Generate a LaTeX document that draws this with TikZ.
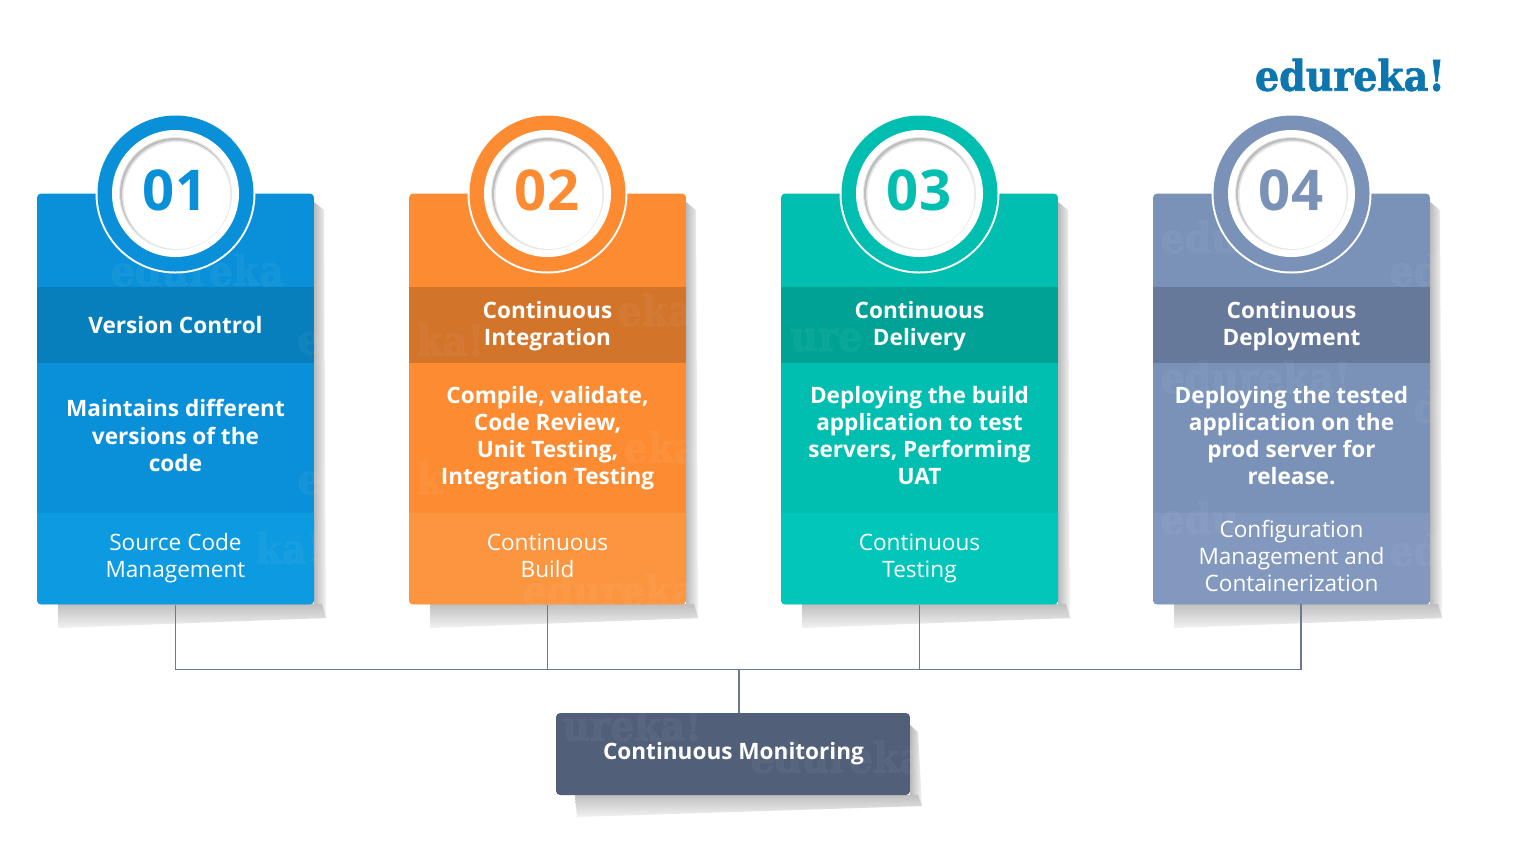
\documentclass[tikz,border=0pt]{standalone}
\usepackage{fontspec}
\setmainfont{Open Sans}
\newfontfamily\logofont[FakeBold=1.6]{DejaVu Serif Bold}
\definecolor{blueA}{HTML}{0A90D8}
\definecolor{blueB}{HTML}{067FBC}
\definecolor{blueC}{HTML}{0C9AE0}
\definecolor{orangeA}{HTML}{FD8B32}
\definecolor{orangeB}{HTML}{D2742A}
\definecolor{orangeC}{HTML}{FC953F}
\definecolor{tealA}{HTML}{00BFB0}
\definecolor{tealB}{HTML}{00A296}
\definecolor{tealC}{HTML}{02C6B9}
\definecolor{slateA}{HTML}{7A92B8}
\definecolor{slateB}{HTML}{66799A}
\definecolor{slateC}{HTML}{8298BE}
\definecolor{monitorA}{HTML}{515F79}
\definecolor{linkA}{HTML}{6A7A94}
\definecolor{logoA}{HTML}{0E76AE}
\tikzset{
  cardbox/.style={minimum width=5.54cm,minimum height=8.22cm,rounded corners=2.3pt,inner sep=0pt},
  bandtext/.style={text=white,align=center,font=\fontsize{12.85}{15.4}\selectfont\bfseries},
  lowtext/.style={text=white!93,align=center,font=\fontsize{12.85}{15.4}\selectfont},
  numtext/.style={font=\fontsize{32}{32}\selectfont\bfseries},
  logotext/.style={xscale=.9,font=\fontsize{24}{24}\selectfont\logofont},
  mark text/.style={logotext,anchor=west,text=white,text opacity=.045},
  haloB/.style={top color=gray!50,bottom color=gray!10},
  haloR/.style={left color=gray!55,right color=gray!8},
  link/.style={draw=linkA,line width=1.1pt},
}
\begin{document}
\begin{tikzpicture}[x=0.02cm,y=-0.02cm]
  \useasboundingbox (0,0) rectangle (1524,846);
  \fill[white] (0,0) rectangle (1524,846);
  % sombras
  \shade[haloR] (314,202)--(324,210)--(326,618)--(314,618)--cycle;
  \shade[haloB] (58,604)--(58,628)--(326,618)--(322,604)--cycle;
  \shade[haloR] (686,202)--(696,210)--(698,618)--(686,618)--cycle;
  \shade[haloB] (430,604)--(430,628)--(698,618)--(694,604)--cycle;
  \shade[haloR] (1058,202)--(1068,210)--(1070,618)--(1058,618)--cycle;
  \shade[haloB] (802,604)--(802,628)--(1070,618)--(1066,604)--cycle;
  \shade[haloR] (1430,202)--(1440,210)--(1442,618)--(1430,618)--cycle;
  \shade[haloB] (1174,604)--(1174,628)--(1442,618)--(1438,604)--cycle;
  \shade[haloR] (910,725)--(918,732)--(922,806)--(910,806)--cycle;
  \shade[haloB] (575,795)--(577,817)--(922,806)--(918,795)--cycle;
  % tarjetas
  \node[cardbox,fill=blueA] (card1) at (175.5,399) {};
  \node[cardbox,fill=orangeA] (card2) at (547.5,399) {};
  \node[cardbox,fill=tealA] (card3) at (919.5,399) {};
  \node[cardbox,fill=slateA] (card4) at (1291.5,399) {};
  % bandas
  \fill[blueB] (37,287) rectangle (314,363);
  \fill[orangeB] (409,287) rectangle (686,363);
  \fill[tealB] (781,287) rectangle (1058,363);
  \fill[slateB] (1153,287) rectangle (1430,363);
  \fill[blueC] (37,513)--(314,513)[rounded corners=2.3pt]--(314,604)--(37,604)[sharp corners]--cycle;
  \fill[orangeC] (409,513)--(686,513)[rounded corners=2.3pt]--(686,604)--(409,604)[sharp corners]--cycle;
  \fill[tealC] (781,513)--(1058,513)[rounded corners=2.3pt]--(1058,604)--(781,604)[sharp corners]--cycle;
  \fill[slateC] (1153,513)--(1430,513)[rounded corners=2.3pt]--(1430,604)--(1153,604)[sharp corners]--cycle;
  % marcas de agua
  \node[mark text] (mark1a) at (105,270) {edureka};
  \node[mark text] (mark1b) at (292,343) {e};
  \node[mark text] (mark1c) at (250,548) {ka!};
  \node[mark text] (mark1d) at (292,483) {e};
  \node[mark text] (mark2a) at (612,310) {eka};
  \node[mark text] (mark2b) at (411,340) {ka!};
  \node[mark text] (mark2c) at (618,447) {eka};
  \node[mark text] (mark2d) at (411,478) {k};
  \node[mark text] (mark2e) at (517,590) {edureka};
  \node[mark text] (mark3a) at (785,340) {ure};
  \node[mark text] (mark4a) at (1155,237) {edu};
  \node[mark text] (mark4b) at (1384,270) {ed};
  \node[mark text] (mark4c) at (1155,377) {edureka!};
  \node[mark text] (mark4d) at (1408,407) {d};
  \node[mark text] (mark4e) at (1155,518) {edu};
  \node[mark text] (mark4f) at (1384,550) {ed};
  % circulos
  \fill[white] (175.5,193.5) circle (80);
  \fill[blueA] (175.5,193.5) circle (78);
  \fill[white] (175.5,193.5) circle (63.5);
  \fill[gray!18] (175.5,193.5) circle (56.5);
  \fill[gray!50] (175,193) circle (55);
  \fill[gray!20] (176.5,194.8) circle (54.5);
  \fill[white] (177,195.5) circle (53.5);
  \fill[white] (547.5,193.5) circle (80);
  \fill[orangeA] (547.5,193.5) circle (78);
  \fill[white] (547.5,193.5) circle (63.5);
  \fill[gray!18] (547.5,193.5) circle (56.5);
  \fill[gray!50] (547,193) circle (55);
  \fill[gray!20] (548.5,194.8) circle (54.5);
  \fill[white] (549,195.5) circle (53.5);
  \fill[white] (919.5,193.5) circle (80);
  \fill[tealA] (919.5,193.5) circle (78);
  \fill[white] (919.5,193.5) circle (63.5);
  \fill[gray!18] (919.5,193.5) circle (56.5);
  \fill[gray!50] (919,193) circle (55);
  \fill[gray!20] (920.5,194.8) circle (54.5);
  \fill[white] (921,195.5) circle (53.5);
  \fill[white] (1291.5,193.5) circle (80);
  \fill[slateA] (1291.5,193.5) circle (78);
  \fill[white] (1291.5,193.5) circle (63.5);
  \fill[gray!18] (1291.5,193.5) circle (56.5);
  \fill[gray!50] (1291,193) circle (55);
  \fill[gray!20] (1292.5,194.8) circle (54.5);
  \fill[white] (1293,195.5) circle (53.5);
  \node[numtext,text=blueA] (num1) at (175,190) {01};
  \node[numtext,text=orangeA] (num2) at (547,190) {02};
  \node[numtext,text=tealA] (num3) at (919,190) {03};
  \node[numtext,text=slateA] (num4) at (1291,190) {04};
  % textos
  \node[bandtext] (head1) at (175.5,325) {Version Control};
  \node[bandtext] (head2) at (547.5,326.5) {Continuous\\Integration};
  \node[bandtext] (head3) at (919.5,326.5) {Continuous\\Delivery};
  \node[bandtext] (head4) at (1291.5,326.5) {Continuous\\Deployment};
  \node[bandtext] (body1) at (175.5,435.5) {Maintains different\\versions of the\\code};
  \node[bandtext] (body2) at (547.5,438) {Compile, validate,\\Code Review,\\Unit Testing,\\Integration Testing};
  \node[bandtext] (body3) at (919.5,435.5) {Deploying the build\\application to test\\servers, Performing\\UAT};
  \node[bandtext] (body4) at (1291.5,435.5) {Deploying the tested\\application on the\\prod server for\\release.};
  \node[lowtext] (low1) at (175.5,558) {Source Code\\Management};
  \node[lowtext] (low2) at (547.5,556) {Continuous\\Build};
  \node[lowtext] (low3) at (919.5,558.5) {Continuous\\Testing};
  \node[lowtext] (low4) at (1291.5,556) {Configuration\\Management and\\Containerization};
  % monitoreo
  \node[fill=monitorA,minimum width=7.08cm,minimum height=1.64cm,rounded corners=2.3pt,inner sep=0pt] (monitor) at (733,754) {};
  \node[mark text] (mark5a) at (557,725) {ureka!};
  \node[mark text] (mark5b) at (745,757) {edureka};
  \node[bandtext] (monitortext) at (733.5,753.5) {Continuous Monitoring};
  % conectores
  \coordinate (bus) at (739,669.5);
  \coordinate (foot4) at (1301,604);
  \draw[link] (card1.south) |- (bus);
  \draw[link] (card2.south) |- (bus);
  \draw[link] (card3.south) |- (bus);
  \draw[link] (foot4) |- (bus);
  \draw[link] (bus) -- (bus |- monitor.north);
  % logo
  \node[logotext,text=logoA] (logo) at (1350,75) {edureka!};
\end{tikzpicture}
\end{document}
